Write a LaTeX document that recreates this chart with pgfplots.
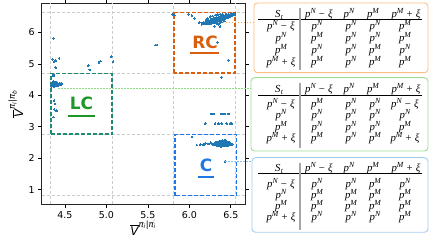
\documentclass[border=0pt]{standalone}
\usepackage{pgfplots}
\pgfplotsset{compat=1.18}
\usepackage{fontspec}
\setmainfont{DejaVu Sans}
\newfontfamily\tms{Liberation Serif}
\definecolor{tabblue}{RGB}{31,119,180}
\definecolor{rcorange}{RGB}{217,95,14}
\definecolor{lcteal}{RGB}{30,140,115}
\definecolor{lcgreen}{RGB}{30,150,40}
\definecolor{cblue}{RGB}{30,120,230}
\definecolor{lorange}{RGB}{253,190,130}
\definecolor{lgreen}{RGB}{160,220,150}
\definecolor{lblue}{RGB}{165,205,240}
\definecolor{dorange}{RGB}{255,165,80}
\definecolor{dgreen}{RGB}{144,220,130}
\definecolor{dblue}{RGB}{140,190,240}
\def\sups#1{\raisebox{3.8bp}[0pt][0pt]{\fontsize{7.8}{8}\selectfont #1}}
\def\pN{{\tms\itshape p\sups{N}}}
\def\pM{{\tms\itshape p\sups{M}}}
\def\pNx{{\tms\itshape p\sups{N}\hspace{3.2bp}{\upshape −}\hspace{3.2bp}ξ}}
\def\pMx{{\tms\itshape p\sups{M}\hspace{3.2bp}{\upshape +}\hspace{3.2bp}ξ}}
\def\St{{\tms\itshape S\kern0.3bp\raisebox{-2bp}[0pt][0pt]{\fontsize{7.5}{8}\selectfont t}}}
% #1 colour, #2 left, #3 top, #4 bottom, #5 header y, #6 rule y, #7 first row y, #8 row step, #9 rows
\newcommand\drawtable[9]{%
  \draw[#1, line width=0.9bp, rounded corners=3.5bp] (#2bp,#3bp) rectangle (428bp,#4bp);
  \begin{scope}[every node/.style={inner sep=0pt, text height=8bp, text depth=2.5bp, anchor=center, font=\fontsize{10.8}{11}\selectfont}]
  \node at (279bp,#5bp) {\St};
  \node at (319bp,#5bp) {\pNx};
  \node at (349bp,#5bp) {\pN};
  \node at (373bp,#5bp) {\pM};
  \node at (406bp,#5bp) {\pMx};
  \draw[black, line width=0.8bp] (258bp,#6bp) -- (422bp,#6bp);
  \draw[gray!70, line width=1.1bp] (300bp,#3bp-5bp) -- (300bp,#4bp+2.5bp);
  \foreach \a/\b/\c/\d/\e [count=\i from 0] in {#9} {
    \pgfmathsetmacro\yy{#7-\i*#8}
    \node at (281bp,\yy bp) {\a};
    \node at (317bp,\yy bp) {\b};
    \node at (351bp,\yy bp) {\c};
    \node at (375bp,\yy bp) {\d};
    \node at (405bp,\yy bp) {\e};
  }
  \end{scope}
}
\begin{document}
\begin{tikzpicture}
\useasboundingbox (0,0) rectangle (431bp,241bp);
\begin{axis}[
  at={(41.7bp,37bp)}, anchor=south west,
  scale only axis, width=203.3bp, height=200.5bp,
  xmin=4.22, xmax=6.67, ymin=0.55, ymax=6.92,
  xtick={4.5,5,5.5,6,6.5}, xticklabels={4.5,5.0,5.5,6.0,6.5},
  ytick={1,2,3,4,5,6},
  tick align=outside, major tick length=3.5bp,
  tick style={black, line width=0.8bp},
  axis line style={black!85, line width=0.8bp},
  ticklabel style={font=\fontsize{9.5}{11}\selectfont},
  /pgf/number format/assume math mode=true,
  xticklabel style={yshift=-0.5bp},
  xlabel={$\overline{\hbox{\fontsize{12}{12}\selectfont\itshape V}}^{\hbox{\fontsize{8.5}{9}\selectfont\itshape π\textsubscript{i}|π\rlap{\textsuperscript{′}}\textsubscript{i}}}$},
  ylabel={$\overline{\hbox{\fontsize{12}{12}\selectfont\itshape V}}^{\hbox{\fontsize{8.5}{9}\selectfont\itshape π\textsubscript{i}|π\textsubscript{b}}}$},
  xlabel style={at={(axis description cs:0.5,-0.118)}, anchor=center},
  ylabel style={at={(axis description cs:-0.128,0.5)}, anchor=center},
]
\foreach \gx in {4.33,5.07,5.81,6.56} {
  \edef\tmp{\noexpand\draw[black!20, line width=0.8bp, dash pattern=on 3bp off 2bp] (axis cs:\gx,0.4) -- (axis cs:\gx,7.1);}\tmp
}
\foreach \gy in {0.83,2.77,4.70,6.63} {
  \edef\tmp{\noexpand\draw[black!20, line width=0.8bp, dash pattern=on 3bp off 2bp] (axis cs:4.1,\gy) -- (axis cs:6.8,\gy);}\tmp
}
\addplot[tabblue, only marks, mark=*, mark size=0.85bp, mark options={draw=tabblue, fill=tabblue, line width=0pt}] coordinates {
(4.34,4.36) (4.35,4.33) (4.35,4.40) (4.36,4.37) (4.36,4.31) (4.37,4.35) (4.37,4.42) (4.38,4.34)
(4.38,4.38) (4.38,4.30) (4.39,4.36) (4.39,4.40) (4.39,4.33) (4.40,4.37) (4.40,4.35) (4.40,4.42)
(4.41,4.34) (4.41,4.38) (4.42,4.36) (4.42,4.32) (4.43,4.37) (4.43,4.34) (4.44,4.36) (4.45,4.35)
(4.46,4.37) (4.36,4.45) (4.34,4.29) (4.37,4.28) (4.41,4.30) (4.44,4.39) (4.35,4.38)
(4.36,5.81) (4.35,5.15) (4.37,5.07) (4.39,5.10) (4.43,5.18) (4.39,4.89) (4.36,4.68) (4.36,4.62)
(4.78,4.94) (4.80,4.81) (4.91,5.05) (4.93,5.09) (5.06,5.23) (5.08,5.07)
(4.37,3.84) (4.38,3.73) (4.37,3.56) (4.40,3.51) (4.36,3.31)
(5.59,5.60) (5.61,5.60)
(5.80,6.58) (5.82,6.55) (5.99,6.58) (6.03,6.53) (6.06,6.45) (6.12,6.31) (6.17,6.32)
(6.30,6.20) (6.37,6.18) (6.34,5.68) (6.47,5.12) (6.39,4.58)
(6.15,6.26) (6.15,6.29) (6.17,6.27) (6.17,6.31) (6.19,6.28) (6.19,6.33) (6.19,6.30)
(6.21,6.29) (6.21,6.32) (6.21,6.35) (6.21,6.27) (6.23,6.30) (6.23,6.34) (6.23,6.37) (6.23,6.28)
(6.25,6.31) (6.25,6.35) (6.25,6.39) (6.25,6.33) (6.25,6.28)
(6.27,6.32) (6.27,6.36) (6.27,6.40) (6.27,6.34) (6.27,6.29) (6.27,6.43)
(6.29,6.33) (6.29,6.37) (6.29,6.41) (6.29,6.35) (6.29,6.30) (6.29,6.44)
(6.31,6.34) (6.31,6.38) (6.31,6.42) (6.31,6.36) (6.31,6.46) (6.31,6.31)
(6.33,6.35) (6.33,6.39) (6.33,6.43) (6.33,6.47) (6.33,6.37) (6.33,6.33)
(6.35,6.36) (6.35,6.40) (6.35,6.44) (6.35,6.48) (6.35,6.38) (6.35,6.42)
(6.37,6.38) (6.37,6.42) (6.37,6.46) (6.37,6.50) (6.37,6.40) (6.37,6.44)
(6.39,6.40) (6.39,6.44) (6.39,6.48) (6.39,6.51) (6.39,6.42) (6.39,6.46)
(6.41,6.42) (6.41,6.46) (6.41,6.50) (6.41,6.53) (6.41,6.44)
(6.43,6.44) (6.43,6.48) (6.43,6.52) (6.43,6.55) (6.43,6.46)
(6.45,6.46) (6.45,6.50) (6.45,6.54) (6.45,6.48) (6.45,6.56)
(6.47,6.48) (6.47,6.52) (6.47,6.56) (6.47,6.50)
(6.49,6.50) (6.49,6.54) (6.49,6.57) (6.49,6.52)
(6.51,6.52) (6.51,6.56) (6.51,6.58) (6.53,6.55) (6.53,6.58) (6.53,6.60) (6.55,6.57) (6.55,6.60)
(6.33,6.28) (6.36,6.30) (6.39,6.33) (6.42,6.36) (6.35,6.25) (6.40,6.57) (6.44,6.59)
(6.22,6.45) (6.25,6.50) (6.28,6.52) (6.31,6.55) (6.34,6.56) (6.20,6.40) (6.37,6.58)
(6.26,3.41) (6.29,3.41) (6.39,3.41) (6.42,3.41) (6.47,3.41)
(6.19,3.10) (6.31,3.10) (6.35,3.10) (6.39,3.10) (6.45,3.10) (6.49,3.10) (6.51,3.10)
(6.03,2.68) (6.09,2.42) (6.13,2.44) (6.17,2.43) (6.19,2.48) (6.23,2.46) (6.26,2.50) (6.28,2.44)
(6.43,1.90)
(6.30,2.44) (6.30,2.48) (6.32,2.42) (6.32,2.46) (6.32,2.50)
(6.34,2.40) (6.34,2.44) (6.34,2.48) (6.34,2.52)
(6.36,2.39) (6.36,2.43) (6.36,2.47) (6.36,2.51) (6.36,2.55)
(6.38,2.38) (6.38,2.42) (6.38,2.46) (6.38,2.50) (6.38,2.54)
(6.40,2.39) (6.40,2.43) (6.40,2.47) (6.40,2.51) (6.40,2.56)
(6.42,2.40) (6.42,2.44) (6.42,2.48) (6.42,2.52) (6.42,2.57)
(6.44,2.41) (6.44,2.45) (6.44,2.49) (6.44,2.53) (6.44,2.58)
(6.46,2.40) (6.46,2.44) (6.46,2.48) (6.46,2.52)
(6.48,2.42) (6.48,2.46) (6.48,2.50) (6.50,2.43) (6.50,2.47) (6.52,2.45)
};
\draw[rcorange, line width=1.5bp, dash pattern=on 4bp off 2bp] (axis cs:5.815,4.71) rectangle (axis cs:6.55,6.63);
\draw[lcteal, line width=1.5bp, dash pattern=on 4bp off 2bp] (axis cs:4.335,2.77) rectangle (axis cs:5.07,4.70);
\draw[cblue, line width=1.5bp, dash pattern=on 4bp off 2bp] (axis cs:5.825,0.82) rectangle (axis cs:6.565,2.76);
\node[rcorange, font=\fontsize{17}{17}\selectfont\bfseries] at (axis cs:6.19,5.70) {RC};
\draw[rcorange, line width=1.8bp] (axis cs:6.01,5.34) -- (axis cs:6.36,5.34);
\node[lcgreen, font=\fontsize{17}{17}\selectfont\bfseries] at (axis cs:4.70,3.74) {LC};
\draw[lcgreen, line width=1.8bp] (axis cs:4.54,3.35) -- (axis cs:4.86,3.35);
\node[cblue, font=\fontsize{17}{17}\selectfont\bfseries] at (axis cs:6.20,1.78) {C};
\draw[cblue, line width=1.8bp] (axis cs:6.10,1.41) -- (axis cs:6.30,1.41);
\coordinate (oA) at (axis cs:6.40,6.32);
\coordinate (gA) at (axis cs:4.42,4.21);
\coordinate (bA) at (axis cs:6.43,1.90);
\end{axis}
\coordinate (rO) at (254bp,0);
\coordinate (rG) at (251bp,0);
\coordinate (rB) at (252bp,0);
\draw[dorange, line width=1bp, dash pattern=on 1.5bp off 1.5bp] (oA) -- (oA -| rO);
\draw[dgreen, line width=1bp, dash pattern=on 1.5bp off 1.5bp] (gA) -- (gA -| rG);
\draw[dblue, line width=1bp, dash pattern=on 1.5bp off 1.5bp] (bA) -- (bA -| rB);
\drawtable{lorange}{254}{238}{168.3}{226.5}{221.5}{214.3}{12}{%
  \pNx/\pN/\pN/\pN/\pM, \pN/\pM/\pN/\pN/\pM, \pM/\pN/\pN/\pM/\pN, \pMx/\pM/\pN/\pM/\pM}
\drawtable{lgreen}{251}{163.3}{90}{151}{145.3}{136.7}{11.5}{%
  \pNx/\pM/\pN/\pN/\pNx, \pN/\pN/\pN/\pN/\pN, \pM/\pN/\pN/\pN/\pM, \pMx/\pM/\pN/\pM/\pMx}
\drawtable{lblue}{252}{83.3}{8.7}{72.7}{67.7}{56.3}{11.1}{%
  \pNx/\pN/\pN/\pM/\pN, \pN/\pM/\pM/\pM/\pM, \pM/\pM/\pM/\pM/\pM, \pMx/\pN/\pN/\pN/\pM}
\end{tikzpicture}
\end{document}
